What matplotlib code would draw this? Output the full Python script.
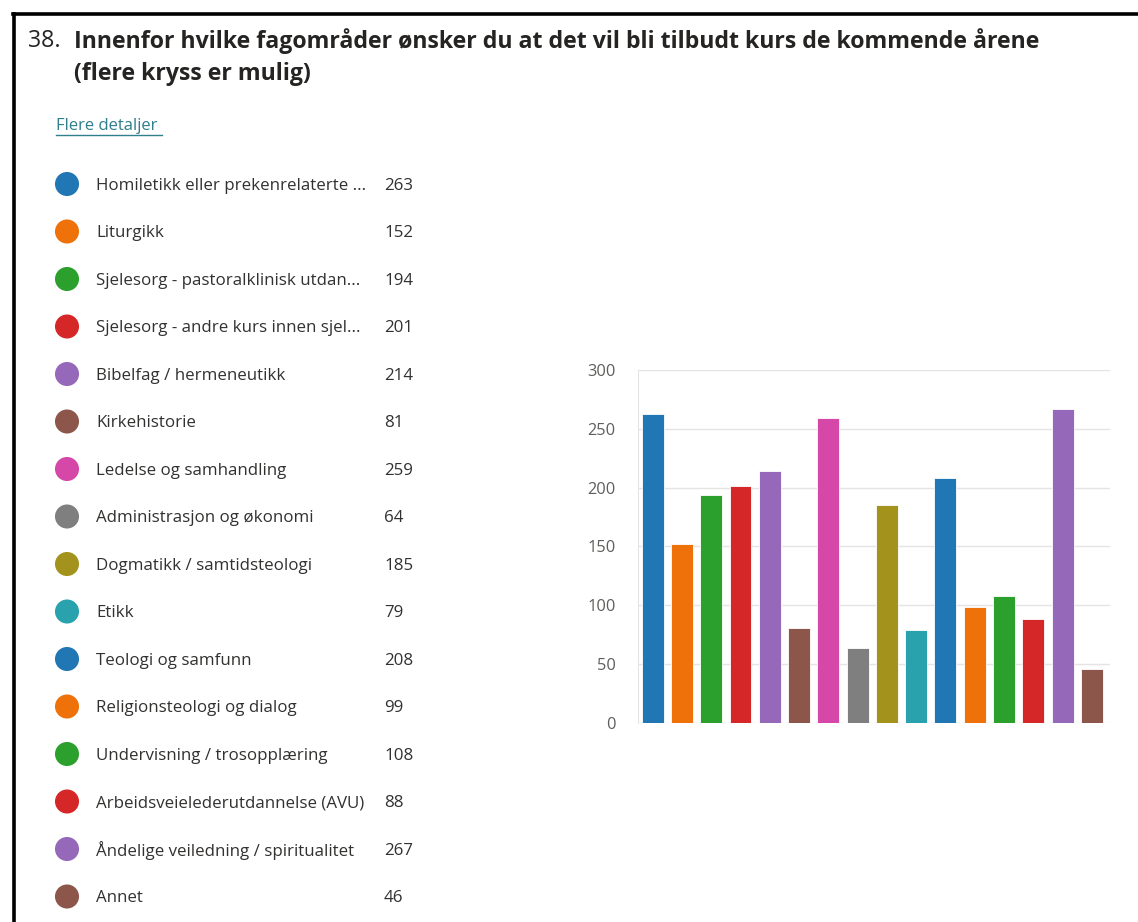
import matplotlib
matplotlib.use('Agg')
import matplotlib.pyplot as plt
from matplotlib.lines import Line2D

labels=['Homiletikk eller prekenrelaterte ...','Liturgikk','Sjelesorg - pastoralklinisk utdan...',
        'Sjelesorg - andre kurs innen sjel...','Bibelfag / hermeneutikk','Kirkehistorie',
        'Ledelse og samhandling','Administrasjon og økonomi','Dogmatikk / samtidsteologi','Etikk',
        'Teologi og samfunn','Religionsteologi og dialog','Undervisning / trosopplæring',
        'Arbeidsveielederutdannelse (AVU)','Åndelige veiledning / spiritualitet','Annet']
counts=[263,152,194,201,214,81,259,64,185,79,208,99,108,88,267,46]
colors=['#2077b4','#ee7209','#2ca02c','#d62728','#9568ba','#8c564b','#d548a7','#7f7f7f',
        '#a3931d','#29a2ae','#2077b4','#ee7209','#2ca02c','#d62728','#9568ba','#8c564b']
yticks=[0,50,100,150,200,250,300]

plt.rcParams['font.family']=['Open Sans','DejaVu Sans']
W,H=1138,922
fig=plt.figure(figsize=(W/100,H/100),dpi=100)

# overlay in pixel coordinates for the text block
ov=fig.add_axes([0,0,1,1])
ov.set_xlim(0,W);ov.set_ylim(H,0);ov.axis('off')
ov.add_line(Line2D([14.5,14.5],[14,H+5],color='black',lw=2.6))
ov.add_line(Line2D([13,W+5],[14.5,14.5],color='black',lw=2.6))
ov.text(28,41,'38.',fontsize=16.7,color='#252423',va='center')
ov.text(74,41,'Innenfor hvilke fagområder ønsker du at det vil bli tilbudt kurs de kommende årene',
        fontsize=16.7,fontweight='bold',color='#252423',va='center')
ov.text(74,74,'(flere kryss er mulig)',fontsize=16.7,fontweight='bold',color='#252423',va='center')
ov.text(56,126,'Flere detaljer',fontsize=12,color='#2f7f8c',va='center')
ov.add_line(Line2D([56,162],[135,135],color='#2f7f8c',lw=1))

for i,(lab,c,col) in enumerate(zip(labels,counts,colors)):
    y=184+i*47.5
    ov.scatter([67],[y],s=300,color=col,edgecolors='none')
    ov.text(96,y+1.5,lab,fontsize=12.2,color='#323130',va='center')
    ov.text(384,y+1.5,str(c),fontsize=12.2,color='#323130',va='center')

# bar chart
ax=fig.add_axes([638/W,1-723/H,(1110-638)/W,(723-370)/H])
x=list(range(len(counts)))
ax.bar(x,counts,width=0.75,color=colors,edgecolor='white',linewidth=0.6,zorder=3)
ax.set_xlim(-0.5,15.62)
ax.set_ylim(0,300)
ax.set_yticks(yticks)
ax.set_yticklabels([str(v) for v in yticks],fontsize=11.8,color='#605e5c')
ax.set_xticks([])
ax.tick_params(axis='y',length=0,pad=16)
ax.grid(axis='y',color='#e6e4e2',lw=1,zorder=0)
for s in ['top','right','bottom']:
    ax.spines[s].set_visible(False)
ax.spines['left'].set_color('#e6e4e2')
ax.spines['left'].set_zorder(0)

fig.savefig('out.png',dpi=100)
